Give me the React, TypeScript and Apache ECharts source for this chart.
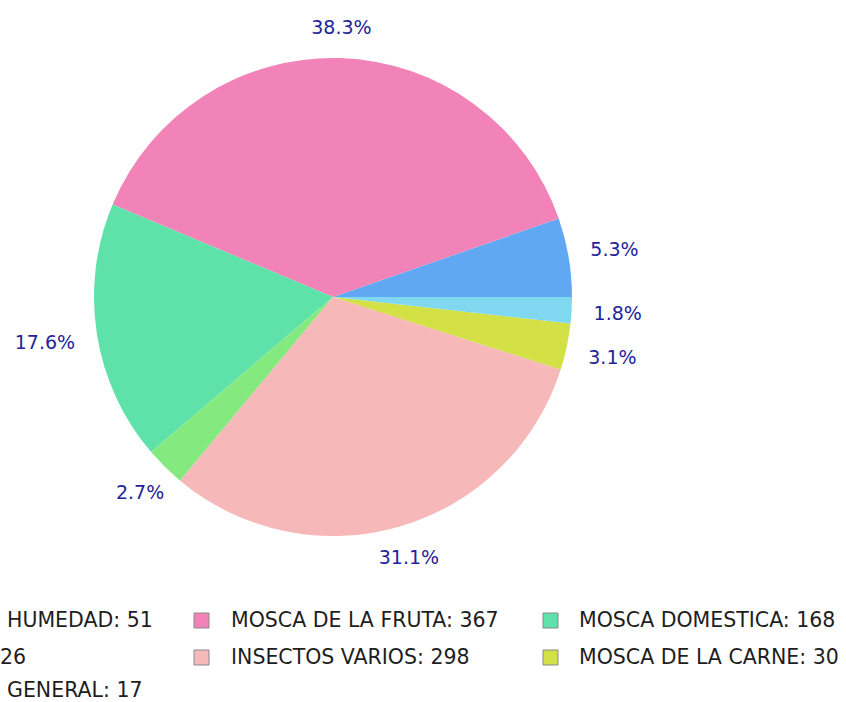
import React, { useEffect, useRef } from "react";
import * as echarts from "echarts";

const names = ["HUMEDAD", "MOSCA DE LA FRUTA", "MOSCA DOMESTICA", "", "INSECTOS VARIOS", "MOSCA DE LA CARNE", "GENERAL"];
const values = [51, 367, 168, 26, 298, 30, 17];
const colors = ["#60a9f2", "#f283b8", "#5fe2a9", "#84ea7f", "#f6b8b8", "#d3e046", "#80d8f0"];

const total = values.reduce((a, b) => a + b, 0);
const CX = 333;
const CY = 297;
const R = 239;
const ANCHOR = 258;

export default function App() {
  const ref = useRef<HTMLDivElement>(null);
  useEffect(() => {
    if (!ref.current) return;
    const chart = echarts.init(ref.current, null, { renderer: "svg" });
    const data = values.map((v, i) => ({ name: names[i] || "item" + i, value: v, itemStyle: { color: colors[i] } }));
    const colIconX = [-40, 194, 543];
    const colTextX = [7, 231, 579];
    const rowY = [620, 657, 690];
    const legendEls: any[] = [];
    values.forEach((v, i) => {
      const col = i % 3;
      const row = Math.floor(i / 3);
      legendEls.push({
        type: "rect",
        shape: { x: colIconX[col], y: rowY[row] - 7, width: 15, height: 15 },
        style: { fill: colors[i], stroke: "#8a8a8a", lineWidth: 1 },
      });
      legendEls.push({
        type: "text",
        x: colTextX[col] - (names[i] ? 0 : 7),
        y: rowY[row],
        style: {
          text: names[i] ? `${names[i]}: ${v}` : `${v}`,
          fill: "#1e1e1e",
          font: "20.5px 'DejaVu Sans'",
          verticalAlign: "middle",
          textAlign: "left",
        },
      });
    });
    chart.setOption({
      animation: false,
      backgroundColor: "#ffffff",
      series: [
        {
          type: "pie",
          center: [CX, CY],
          radius: [0, R],
          startAngle: 0,
          clockwise: false,
          silent: true,
          label: { show: false },
          labelLine: { show: false },
          data,
        },
        {
          type: "pie",
          center: [CX, CY],
          radius: [ANCHOR - 2, ANCHOR + 2],
          startAngle: 0,
          clockwise: false,
          silent: true,
          itemStyle: { color: "rgba(0,0,0,0)" },
          label: {
            show: true,
            position: "inside",
            color: "#24249a",
            fontFamily: "DejaVu Sans",
            fontSize: 19,
            formatter: (p: any) => ((p.value / total) * 100).toFixed(1) + "%",
          },
          labelLine: { show: false },
          labelLayout: (p: any) => {
            const r = p.labelRect;
            const lx = r.x + r.width / 2;
            const ly = r.y + r.height / 2;
            const dx = lx - CX;
            const dy = ly - CY;
            const len = Math.sqrt(dx * dx + dy * dy) || 1;
            const c = dx / len;
            const s = dy / len;
            const tw = Math.abs(c) > 1e-6 ? r.width / 2 / Math.abs(c) : Infinity;
            const th = Math.abs(s) > 1e-6 ? r.height / 2 / Math.abs(s) : Infinity;
            const t = Math.min(tw, th);
            return { dx: t * c, dy: t * s };
          },
          data: values.map((v, i) => ({ name: "l" + i, value: v })),
        },
      ],
      graphic: legendEls,
    });
    return () => chart.dispose();
  }, []);
  return <div ref={ref} style={{ position: "fixed", left: 0, top: 0, width: 846, height: 702 }} />;
}
